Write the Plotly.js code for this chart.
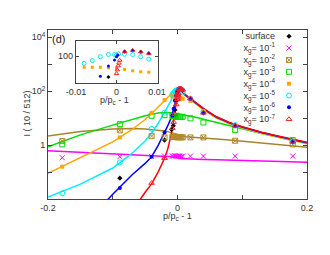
<!DOCTYPE html>
<html><head><meta charset="utf-8">
<script src="https://cdn.plot.ly/plotly-3.0.1.min.js"></script>
<style>html,body{margin:0;padding:0;background:#fff}#chart{width:330px;height:255px}</style>
</head><body><div id="chart"></div>
<script>
// ---------- data ----------
const seriesKeys = ['surface','xg1','xg2','xg3','xg4','xg5','xg6','xg7'];
const seriesLabels = ['surface','x<sub>g</sub>= 10<sup>-1</sup>','x<sub>g</sub>= 10<sup>-2</sup>','x<sub>g</sub>= 10<sup>-3</sup>',
  'x<sub>g</sub>= 10<sup>-4</sup>','x<sub>g</sub>= 10<sup>-5</sup>','x<sub>g</sub>= 10<sup>-6</sup>','x<sub>g</sub>= 10<sup>-7</sup>'];

// measured points (x = p/pc - 1, I)
const surfaceX = [-0.089,-0.02,-0.009,-0.0065,-0.005,-0.004,-0.002,0.002,0.004,0.006,0.008,0.02,0.04,0.089,0.178];
const surfaceI = [0.059,1.53,3.8,5.25,11.2,20,43.6,120,126,119,112,52.5,15.7,5.19,1.32];

const xg1X = [-0.178,-0.089,-0.04,-0.02,-0.008,-0.006,-0.004,-0.002,0,0.002,0.004,0.006,0.008,0.02,0.04,0.089,0.178];
const xg1I = [0.34,0.37,0.38,0.39,0.39,0.39,0.40,0.39,0.39,0.39,0.39,0.38,0.39,0.39,0.39,0.39,0.39];

const xg2X = [-0.178,-0.089,-0.04,-0.02,-0.008,-0.006,-0.004,-0.002,0,0.002,0.004,0.006,0.008,0.02,0.04,0.089,0.178];
const xg2I = [1.41,3.5,2.15,1.93,2.0,2.0,2.0,1.95,1.95,1.95,1.95,1.95,1.93,1.93,1.93,1.45,1.06];

const xg3X = [-0.178,-0.089,-0.04,-0.02,-0.008,-0.006,-0.004,-0.002,0,0.002,0.004,0.006,0.008,0.02,0.04,0.089,0.178];
const xg3I = [1.06,6.0,12.2,12.9,12.0,11.8,11.5,11.3,11.2,11.2,11.0,11.0,11.2,9.8,6.9,3.6,1.53];

const xg4X = [-0.178,-0.089,-0.04,-0.02,-0.008,-0.006,-0.004,-0.002,0,0.002,0.004,0.006,0.008,0.02,0.04,0.089,0.178];
const xg4I = [0.158,1.93,15.7,46.8,64.1,64.1,64.1,63.1,61.7,58.9,55.8,53.7,52.5,43.6,17.8,5.2,1.32];

const xg5X = [-0.178,-0.089,-0.04,-0.02,-0.008,-0.006,-0.004,-0.002,-0.0005,0,0.0005,0.002,0.004,0.006,0.008,0.02,0.04,0.089,0.178];
const xg5I = [0.0162,0.229,4.0,16,75,84,98,107,107,105,110,108,107,98,89,53,17,5.5,1.35];

const xg6X = [-0.089,-0.04,-0.02,-0.008,-0.006,-0.004,-0.002,-0.0005,0,0.0003,0.002,0.004,0.006,0.008,0.02,0.04,0.089,0.178];
const xg6I = [0.0257,0.369,2.95,12.6,22.4,45,67.6,86,98,105,120,126,119,112,52.5,15.7,5.19,1.32];

const xg7X = [-0.04,-0.02,-0.008,-0.006,-0.004,-0.002,0,0.0002,0.0004,0.0006,0.0008,0.002,0.004,0.006,0.008,0.02,0.04,0.089,0.178];
const xg7I = [0.039,0.324,4.2,7.1,14,32,50,58,68,76,85,120,126,119,112,52.5,15.7,5.19,1.32];

// fitted curves, sampled at fitX
const fitX = [-0.2,-0.15,-0.1,-0.07,-0.05,-0.04,-0.03,-0.02,-0.015,-0.01,-0.005,-0.002,0,0.002,0.004,0.006,0.008,0.012,0.02,0.03,0.04,0.06,0.08,0.1,0.13,0.16,0.2];
const fitXg1 = [0.617,0.537,0.479,0.437,0.417,0.407,0.398,0.389,0.38,0.38,0.372,0.372,0.363,0.316,0.309,0.309,0.309,0.309,0.302,0.302,0.295,0.288,0.282,0.275,0.263,0.245,0.229];
const fitXg2 = [2.15,3.16,3.98,4.17,3.98,3.8,3.63,3.31,3.16,2.95,2.75,2.63,2.51,2.14,2.09,2.09,2.09,2.04,2.0,1.91,1.86,1.7,1.55,1.41,1.23,1.07,0.832];
const fitXg3 = [0.865,2.4,5.5,9.12,12.3,13.8,15.5,16.2,16.2,15.8,15.5,15.1,15.1,14.8,14.1,13.5,13.2,12.9,12.0,10.5,9.12,6.92,5.25,3.98,2.69,1.86,1.2];
const fitXg4 = [0.0891,0.355,1.32,3.8,8.91,14.8,26.3,45.7,60.3,79.4,105,120,132,138,135,105,85.1,67.6,47.9,31.6,20.4,10,6.17,4.27,2.69,1.82,1.12];
const fitXg5 = [0.0117,0.0355,0.141,0.501,1.41,2.82,6.31,15.8,26.3,44.7,79.4,110,126,138,141,112,89.1,70.8,51.3,33.9,21.9,10.7,6.61,4.57,2.88,1.95,1.2];
const fitXg6 = [1e-6,7.9e-4,0.0151,0.0794,0.209,0.372,0.955,2.82,5.25,10,26.3,60.3,95.5,126,148,117,91.2,72.4,52.5,34.7,22.4,11.0,6.76,4.68,2.95,2.0,1.23];
const fitXg7 = [1e-6,1e-5,2.5e-4,3.55e-3,0.0178,0.0363,0.1,0.324,0.724,2.29,11.5,39.8,75.9,120,151,120,93.3,74.1,53.7,35.5,22.9,11.2,6.92,4.79,3.02,2.04,1.26];

// ---------- styles ----------
const pointX = [surfaceX,xg1X,xg2X,xg3X,xg4X,xg5X,xg6X,xg7X];
const pointI = [surfaceI,xg1I,xg2I,xg3I,xg4I,xg5I,xg6I,xg7I];
const fits = [null,fitXg1,fitXg2,fitXg3,fitXg4,fitXg5,fitXg6,fitXg7];
const mstyle = [
  {symbol:'diamond', color:'#000000', size:4, lw:0},
  {symbol:'x-thin-open', color:'#ff00ff', size:5, lw:1},
  {symbol:'square-x-open', color:'#b38b2d', size:5, lw:1},
  {symbol:'square-open', color:'#00dd00', size:5, lw:1},
  {symbol:'square', color:'#ffa500', size:4, lw:0},
  {symbol:'circle-open', color:'#00e8f4', size:5, lw:1},
  {symbol:'circle', color:'#0000ff', size:4, lw:0},
  {symbol:'triangle-up-open', color:'#ff2020', size:5, lw:1}
];
const lcolor = [null,'#ff00ff','#a8842a','#00dd00','#ffa500','#00eeff','#0000ff','#ff0000'];

const traces = [];
for (let i=1;i<8;i++){
  traces.push({x:fitX, y:fits[i], mode:'lines', type:'scatter', xaxis:'x', yaxis:'y',
    line:{color:lcolor[i], width:1.5}, hoverinfo:'skip', showlegend:false});
}
for (let i=0;i<8;i++){
  const s = mstyle[i];
  traces.push({x:pointX[i], y:pointI[i], mode:'markers', type:'scatter', xaxis:'x', yaxis:'y',
    marker:{symbol:s.symbol, color:s.color, size:s.size, line:{color:s.color, width:s.lw}},
    showlegend:false, hoverinfo:'skip'});
}
for (let i=0;i<8;i++){
  const s = mstyle[i];
  traces.push({x:pointX[i], y:pointI[i], mode:'markers', type:'scatter', xaxis:'x2', yaxis:'y2',
    marker:{symbol:s.symbol, color:s.color, size:Math.max(3,s.size-1), line:{color:s.color, width:s.lw}},
    showlegend:false, hoverinfo:'skip'});
}
for (let i=0;i<8;i++){
  const s = mstyle[i];
  traces.push({x:['key'], y:[seriesKeys[i]], mode:'markers', type:'scatter', xaxis:'x3', yaxis:'y3',
    marker:{symbol:s.symbol, color:s.color, size:s.size, line:{color:s.color, width:s.lw}},
    showlegend:false, hoverinfo:'skip'});
}

const tf = {family:'Liberation Sans, Arial, sans-serif', size:9, color:'#333'};
const axCommon = {showline:true, linecolor:'#444', linewidth:1, mirror:'ticks', ticks:'inside',
  ticklen:4, tickcolor:'#444', showgrid:false, zeroline:false, tickfont:tf};

const layout = {
  width:330, height:255,
  margin:{l:48, r:23, t:30, b:56},
  paper_bgcolor:'#fff', plot_bgcolor:'#fff',
  font:tf,
  showlegend:false,
  xaxis:Object.assign({}, axCommon, {range:[-0.2,0.2], tickmode:'array', tickvals:[-0.2,0,0.2],
    ticktext:['-0.2','0','0.2'],
    minor:{tickmode:'array', tickvals:[-0.1,0.1], ticks:'inside', ticklen:4, tickcolor:'#444'}}),
  yaxis:Object.assign({}, axCommon, {type:'log', range:[-2,4.27], tickmode:'array',
    tickvals:[1,100,10000], ticktext:['1','10<sup>2</sup>','10<sup>4</sup>'],
    minor:{tickmode:'array', tickvals:[0.1,10,1000], ticks:'inside', ticklen:4, tickcolor:'#444'}}),
  xaxis2:Object.assign({}, axCommon, {domain:[0.107,0.4236], anchor:'y2', range:[-0.0101,0.0102],
    tickmode:'array', tickvals:[-0.01,0,0.01], ticktext:['-0.01','0','0.01'], ticklen:3}),
  yaxis2:Object.assign({}, axCommon, {domain:[0.688,0.937], anchor:'x2', type:'log', range:[1.54,2.27],
    tickmode:'array', tickvals:[100], ticktext:['100'], ticklen:3}),
  xaxis3:{domain:[0.8803,0.9807], anchor:'y3', type:'category', range:[-1,1], visible:false, fixedrange:true},
  yaxis3:{domain:[0.437,0.998], anchor:'x3', type:'category', categoryarray:seriesKeys, categoryorder:'array',
    range:[7.5,-0.5], showgrid:false, zeroline:false, showline:false, ticks:'', tickmode:'array',
    tickvals:seriesKeys, ticktext:seriesLabels, tickfont:{family:tf.family, size:9, color:'#333'}},
  annotations:[
    {text:'(d)', xref:'paper', yref:'paper', x:0.008, y:0.944, xanchor:'left', yanchor:'middle', showarrow:false,
      font:{family:tf.family, size:11, color:'#222'}},
    {text:'p/p<sub>c</sub> - 1', xref:'paper', yref:'paper', x:0.5, y:-0.106, xanchor:'center', yanchor:'middle', showarrow:false, font:tf},
    {text:'I ( 10 / 512)', xref:'paper', yref:'paper', x:-0.081, y:0.506, xanchor:'center', yanchor:'middle', textangle:-90, showarrow:false, font:tf},
    {text:'p/p<sub>c</sub> - 1', xref:'paper', yref:'paper', x:0.255, y:0.582, xanchor:'center', yanchor:'middle', showarrow:false, font:tf}
  ]
};

Plotly.newPlot('chart', traces, layout, {staticPlot:true, displayModeBar:false});
</script>
</body></html>
